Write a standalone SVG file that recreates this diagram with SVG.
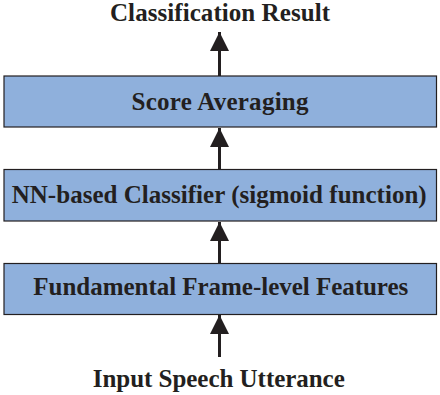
<svg xmlns="http://www.w3.org/2000/svg" width="440" height="395" viewBox="0 0 440 395">
<defs>
<style>
.box{fill:#8fb0dc;stroke:#231f20;stroke-width:1.2}
.t{font-family:"Liberation Serif","Times New Roman",serif;font-weight:bold;font-size:25px;fill:#231f20;text-anchor:middle}
.ln{stroke:#231f20;stroke-width:3;fill:none}
.ah{fill:#231f20}
</style>
<marker id="arr" viewBox="0 0 10 10" refX="10" refY="5" markerUnits="userSpaceOnUse" markerWidth="20" markerHeight="19" orient="auto">
<path d="M0,0 L10,5 L0,10 Z" class="ah"/>
</marker>
</defs>
<rect width="440" height="395" fill="#ffffff"/>
<g id="connectors">
<line class="ln" x1="219.5" y1="76" x2="219.5" y2="32" marker-end="url(#arr)"/>
<line class="ln" x1="219.5" y1="169" x2="219.5" y2="128" marker-end="url(#arr)"/>
<line class="ln" x1="219.5" y1="263" x2="219.5" y2="222" marker-end="url(#arr)"/>
<line class="ln" x1="219.5" y1="357" x2="219.5" y2="315" marker-end="url(#arr)"/>
</g>
<g id="output"><text class="t" x="220" y="21" textLength="220" lengthAdjust="spacing">Classification Result</text></g>
<g id="score"><rect class="box" x="4" y="76" width="432.5" height="51"/><text class="t" x="220" y="109.5" textLength="177" lengthAdjust="spacing">Score Averaging</text></g>
<g id="classifier"><rect class="box" x="4" y="169.5" width="432.5" height="51.5"/><text class="t" x="219.2" y="203" textLength="415" lengthAdjust="spacing">NN-based Classifier (sigmoid function)</text></g>
<g id="features"><rect class="box" x="4" y="263.5" width="432.5" height="51"/><text class="t" x="220.8" y="295" textLength="375" lengthAdjust="spacing">Fundamental Frame-level Features</text></g>
<g id="input"><text class="t" x="218.8" y="387" textLength="252" lengthAdjust="spacing">Input Speech Utterance</text></g>
</svg>
